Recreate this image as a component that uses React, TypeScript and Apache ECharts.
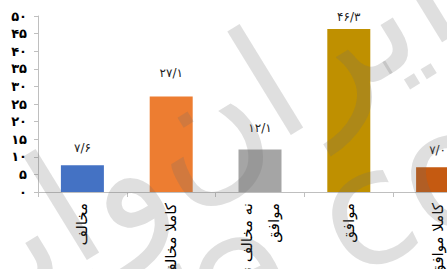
import React, { useEffect, useRef } from "react";
import * as echarts from "echarts";

const categories = ["مخالف", "کاملا مخالف", "نه مخالف نه\nموافق", "موافق", "کاملا موافق"];
const values = [7.6, 27.1, 12.1, 46.3, 7.0];
const valueLabels = ["۷/۶", "۲۷/۱", "۱۲/۱", "۴۶/۳", "۷/۰"];
const barColors = ["#4472C4", "#ED7D31", "#A5A5A5", "#BF9000", "#C55A11"];
const labelGaps = [11, 18, 15, 6, 11];

const faDigits = "۰۱۲۳۴۵۶۷۸۹";
const toFa = (v: number | string) =>
  String(v).replace(/[0-9]/g, (d) => faDigits[Number(d)]).replace(".", "/");

export default function App() {
  const ref = useRef<HTMLDivElement>(null);
  useEffect(() => {
    if (!ref.current) return;
    const chart = echarts.init(ref.current, null, { renderer: "svg" });
    const wm = "rgba(110,110,110,0.22)";
    chart.setOption({
      animation: false,
      grid: { left: 38, top: 16, bottom: 77, width: 444, containLabel: false, outerBoundsMode: "none" },
      xAxis: {
        type: "category",
        data: categories,
        axisLine: { lineStyle: { color: "#bfbfbf" } },
        axisTick: { show: true, length: 5, lineStyle: { color: "#bfbfbf" } },
        axisLabel: {
          interval: 0,
          rotate: 90,
          align: "right",
          verticalAlign: "middle",
          margin: 11,
          fontSize: 15,
          color: "#000",
          fontFamily: "DejaVu Sans",
          lineHeight: 27,
        },
      },
      yAxis: {
        type: "value",
        min: 0,
        max: 50,
        interval: 5,
        splitLine: { show: false },
        axisLine: { show: true, lineStyle: { color: "#bfbfbf" } },
        axisTick: { show: true, length: 4, lineStyle: { color: "#bfbfbf" } },
        axisLabel: {
          margin: 11,
          fontSize: 13,
          fontWeight: "bold",
          color: "#000",
          fontFamily: "DejaVu Sans",
          formatter: (v: number) => toFa(v),
        },
      },
      series: [
        {
          type: "bar",
          barWidth: 43,
          data: values.map((v, i) => ({
            value: v,
            itemStyle: { color: barColors[i] },
            label: {
              show: true,
              position: "top",
              distance: labelGaps[i],
              formatter: () => valueLabels[i],
              fontSize: 12,
              color: "#222",
              fontFamily: "DejaVu Sans",
            },
          })),
        },
      ],
      graphic: [
        {
          type: "text",
          x: 185,
          y: 135,
          rotation: 0.55,
          z: 100,
          silent: true,
          style: {
            text: "ایران‌وایر",
            font: "160px 'DejaVu Sans'",
            fill: wm,
            textAlign: "center",
            textVerticalAlign: "middle",
          },
        },
        {
          type: "text",
          x: 305,
          y: 240,
          rotation: 0.45,
          z: 100,
          silent: true,
          style: {
            text: "wire.com",
            font: "160px 'DejaVu Sans'",
            fill: wm,
            textAlign: "center",
            textVerticalAlign: "middle",
          },
        },
      ],
    });
    return () => chart.dispose();
  }, []);
  return (
    <div style={{ position: "fixed", left: 0, top: 0, width: 447, height: 269, overflow: "hidden", background: "#fff" }}>
      <div ref={ref} style={{ width: 490, height: 269 }} />
    </div>
  );
}
